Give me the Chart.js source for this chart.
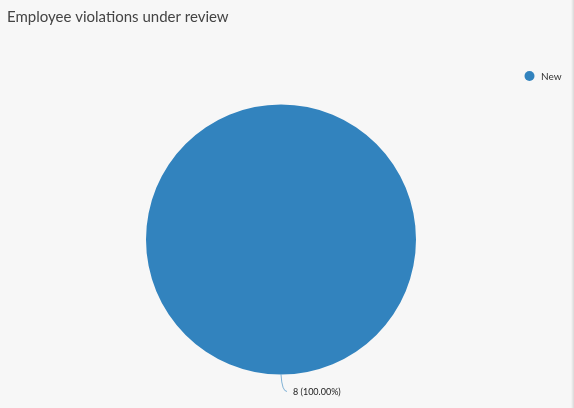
<!DOCTYPE html>
<html>
<head>
<meta charset="utf-8">
<script src="https://cdn.jsdelivr.net/npm/chart.js@4"></script>
<style>
  html, body { margin: 0; padding: 0; background: #f7f7f7; }
  #wrap { position: relative; width: 574px; height: 408px; }
  #edge { position: absolute; right: 0; top: 0; width: 3px; height: 408px;
    background: linear-gradient(to right, #f7f7f7, #d9d9d9); }
</style>
</head>
<body>
<div id="wrap">
  <canvas id="violationsChart" width="574" height="408"></canvas>
  <div id="edge"></div>
</div>
<script>
const chartTitle = 'Employee violations under review'
const categories = ['New']
const counts = [8]
const colors = ['#3283be']

// title, legend and the leader-line label are drawn by hand
const extras = {
    id: 'extras',
    afterDraw(chart) {
        const c = chart.ctx
        c.save()
        c.fillStyle = '#444'
        c.font = '15px Lato'
        c.textBaseline = 'alphabetic'
        c.fillText(chartTitle, 7, 22)

        // legend
        chart.data.labels.forEach((lab, i) => {
            const y = 76 + i * 18
            c.fillStyle = colors[i]
            c.beginPath()
            c.arc(529.5, y, 5, 0, Math.PI * 2)
            c.fill()
            c.fillStyle = '#333'
            c.font = '10px Lato'
            c.textBaseline = 'middle'
            c.fillText(lab, 541, y + 1)
        })

        // labels
        const ds = chart.data.datasets[0]
        const total = ds.data.reduce((a, b) => a + b, 0)
        chart.getDatasetMeta(0).data.forEach((arc, i) => {
            const mid = (arc.startAngle + arc.endAngle) / 2
            const x = arc.x + Math.cos(mid) * arc.outerRadius
            const y = arc.y + Math.sin(mid) * arc.outerRadius
            c.strokeStyle = 'rgba(50,131,190,0.6)'
            c.lineWidth = 1
            c.beginPath()
            c.moveTo(x, y)
            c.quadraticCurveTo(x + 1, y + 17, x + 6, y + 17)
            c.stroke()
            const pct = (ds.data[i] / total * 100).toFixed(2)
            c.fillStyle = '#222'
            c.font = '9px Lato'
            c.textBaseline = 'middle'
            c.fillText(ds.data[i] + ' (' + pct + '%)', x + 12, y + 17.5)
        })
        c.restore()
    },
}

const ctx = document.querySelector('#violationsChart').getContext('2d')

const violationsChart = new Chart(ctx, {
    type: 'pie',
    data: {
        labels: categories,
        datasets: [
            {
                data: counts,
                backgroundColor: colors,
                borderWidth: 0,
            },
        ],
    },
    options: {
        responsive: false,
        animation: false,
        layout: {
            padding: { left: 146, right: 158, top: 104.5, bottom: 33.5 },
        },
        plugins: {
            legend: { display: false },
            tooltip: { enabled: false },
        },
    },
    plugins: [extras],
})
</script>
</body>
</html>
